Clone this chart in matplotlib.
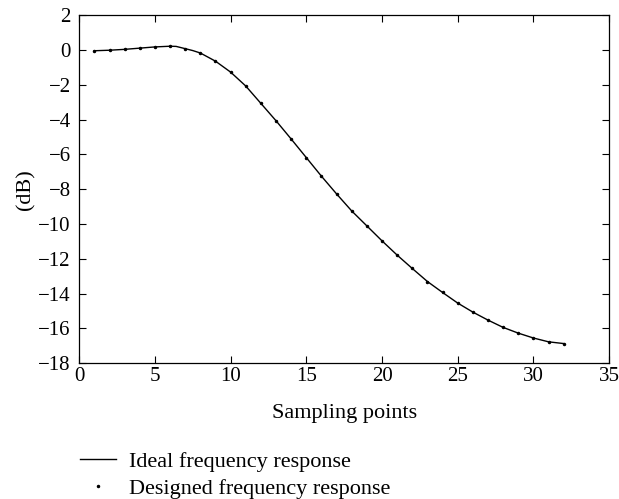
import numpy as np
import matplotlib
matplotlib.use("Agg")
import matplotlib.pyplot as plt
from matplotlib.lines import Line2D

# values
sample_x = list(range(1, 33))
designed_db = [-0.03, 0.00, 0.05, 0.12, 0.20, 0.22, 0.08, -0.15, -0.63, -1.26,
               -2.06, -3.06, -4.06, -5.11, -6.18, -7.25, -8.27, -9.25, -10.11, -10.97,
               -11.79, -12.56, -13.31, -13.94, -14.55, -15.07, -15.53, -15.95, -16.28, -16.56,
               -16.78, -16.88]

ideal_x = [1, 2, 3, 4, 5, 6, 6.4, 7, 7.5, 8, 9, 10, 11, 12, 13, 14, 15, 16, 17, 18,
           19, 20, 21, 22, 23, 24, 25, 26, 27, 28, 29, 30, 31, 32]
ideal_db = [-0.03, 0.00, 0.05, 0.12, 0.19, 0.23, 0.22, 0.09, -0.02, -0.16, -0.63, -1.26,
            -2.06, -3.06, -4.06, -5.11, -6.18, -7.25, -8.27, -9.25, -10.11, -10.97,
            -11.79, -12.56, -13.31, -13.94, -14.55, -15.07, -15.53, -15.95, -16.28, -16.56,
            -16.78, -16.88]

x_ticks = [0, 5, 10, 15, 20, 25, 30, 35]
y_ticks = [2, 0, -2, -4, -6, -8, -10, -12, -14, -16, -18]

plt.rcParams["font.family"] = ["Liberation Serif", "DejaVu Serif"]
fs_tick = 15
fs_text = 16

fig = plt.figure(figsize=(6.19, 4.99), dpi=100)
ax = fig.add_axes([0.128, 0.2725, 0.856, 0.6965])

ax.plot(ideal_x, ideal_db, color="black", lw=1.0)
ax.plot(sample_x, designed_db, ls="none", marker=".", ms=3, color="black")

ax.set_xlim(0, 35)
ax.set_ylim(-18, 2)
ax.set_xticks(x_ticks)
ax.set_yticks(y_ticks)
ax.set_yticklabels([str(v).replace("-", "\u2212") for v in y_ticks])
ax.tick_params(direction="in", top=True, right=True, length=5, width=0.8,
               labelsize=fs_tick)
ax.tick_params(axis="x", pad=3)
ax.tick_params(axis="y", pad=6)
for s in ax.spines.values():
    s.set_linewidth(0.9)

ax.set_xlabel("Sampling points", fontsize=fs_text, labelpad=13)
ax.set_ylabel("(dB)", fontsize=fs_text, labelpad=2)

handles = [
    Line2D([0], [0], color="black", lw=1.0, label="Ideal frequency response"),
    Line2D([0], [0], color="black", ls="none", marker=".", ms=3, label="Designed frequency response"),
]
fig.legend(handles=handles, loc="lower left", bbox_to_anchor=(0.112, -0.022),
           frameon=False, fontsize=fs_text, handlelength=1.6, handletextpad=0.6,
           labelspacing=0.3, borderaxespad=0.1)

fig.savefig("out.png", dpi=100)
